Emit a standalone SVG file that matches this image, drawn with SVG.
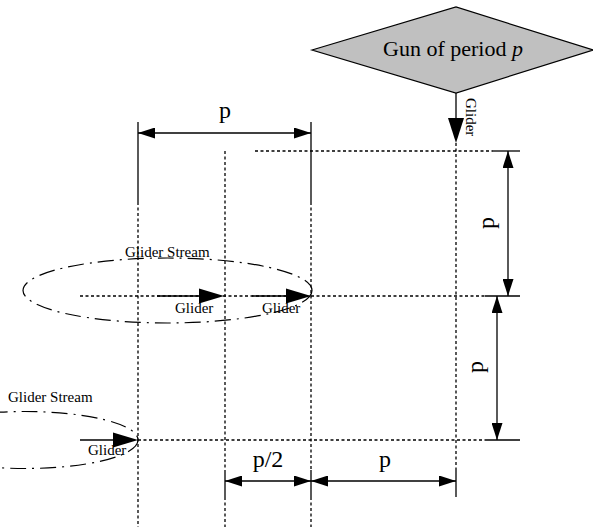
<svg xmlns="http://www.w3.org/2000/svg" width="593" height="527" viewBox="0 0 593 527">
<style>
text{font-family:"Liberation Serif","Times New Roman",serif;fill:#000}
.dot{stroke:#000;stroke-width:1.3;stroke-dasharray:3,2.5;fill:none}
.sol{stroke:#000;stroke-width:1.3;fill:none}
.dd{stroke:#000;stroke-width:1.2;stroke-dasharray:16,6,2,6;fill:none}
.lbl{font-size:15px}
.dim{font-size:24px}
</style>
<defs>
<marker id="ah" viewBox="0 0 17 11" refX="17" refY="5.5" markerWidth="17" markerHeight="11" markerUnits="userSpaceOnUse" orient="auto-start-reverse">
<path d="M0,0 L17,5.5 L0,11 Z" fill="#000"/>
</marker>
</defs>
<g id="gun">
<polygon points="312,50 456,7 593,50 456,93" fill="#c0c0c0" stroke="#000" stroke-width="1.2"/>
<text x="453" y="56" font-size="22" text-anchor="middle">Gun of period <tspan font-style="italic">p</tspan></text>
</g>
<g id="connectors">
<line class="dot" x1="456" y1="143" x2="456" y2="470"/>
<line class="sol" x1="456" y1="470" x2="456" y2="497"/>
<line class="sol" x1="138" y1="122" x2="138" y2="202"/>
<line class="dot" x1="138" y1="202" x2="138" y2="527"/>
<line class="sol" x1="311" y1="122" x2="311" y2="202"/>
<line class="dot" x1="311" y1="202" x2="311" y2="470"/>
<line class="sol" x1="311" y1="470" x2="311" y2="497"/>
<line class="dot" x1="311" y1="497" x2="311" y2="527"/>
<line class="dot" x1="225" y1="151" x2="225" y2="470"/>
<line class="sol" x1="225" y1="470" x2="225" y2="497"/>
<line class="dot" x1="225" y1="497" x2="225" y2="527"/>
<line class="dot" x1="255" y1="151" x2="493" y2="151"/>
<line class="sol" x1="493" y1="151" x2="520" y2="151"/>
<line class="dot" x1="80" y1="296" x2="485" y2="296"/>
<line class="sol" x1="485" y1="296" x2="520" y2="296"/>
<line class="dot" x1="138" y1="440" x2="485" y2="440"/>
<line class="sol" x1="485" y1="440" x2="520" y2="440"/>
<line class="sol" x1="456" y1="93" x2="456" y2="120"/>
<polygon points="448,118 464,118 456,143" fill="#000"/>
<text class="lbl" transform="translate(466,98) rotate(90)" font-size="14.5">Glider</text>
<line class="sol" x1="138" y1="133" x2="311" y2="133" marker-start="url(#ah)" marker-end="url(#ah)"/>
<text class="dim" x="225" y="118" text-anchor="middle">p</text>
<line class="sol" x1="225" y1="481" x2="311" y2="481" marker-start="url(#ah)" marker-end="url(#ah)"/>
<text class="dim" x="268" y="467" text-anchor="middle">p/2</text>
<line class="sol" x1="311" y1="481" x2="456" y2="481" marker-start="url(#ah)" marker-end="url(#ah)"/>
<text class="dim" x="385" y="467" text-anchor="middle">p</text>
<line class="sol" x1="508" y1="151" x2="508" y2="296" marker-start="url(#ah)" marker-end="url(#ah)"/>
<text class="dim" transform="translate(494,223) rotate(-90)" text-anchor="middle">p</text>
<line class="sol" x1="497" y1="296" x2="497" y2="440" marker-start="url(#ah)" marker-end="url(#ah)"/>
<text class="dim" transform="translate(483,367) rotate(-90)" text-anchor="middle">p</text>
</g>
<g id="stream1">
<ellipse class="dd" cx="167.5" cy="290.5" rx="144.5" ry="32.5"/>
<text class="lbl" x="125" y="257">Glider Stream</text>
<line class="sol" x1="157" y1="296" x2="200" y2="296"/>
<polygon points="199,288.5 224,296 199,303.5" fill="#000"/>
<text class="lbl" x="175" y="313">Glider</text>
<line class="sol" x1="252" y1="296" x2="287" y2="296"/>
<polygon points="286,288.5 311,296 286,303.5" fill="#000"/>
<text class="lbl" x="262" y="313">Glider</text>
</g>
<g id="stream2">
<ellipse class="dd" cx="25" cy="440" rx="113" ry="28.5"/>
<text class="lbl" x="8" y="402">Glider Stream</text>
<line class="sol" x1="80" y1="440" x2="114" y2="440"/>
<polygon points="113,432.5 138,440 113,447.5" fill="#000"/>
<text class="lbl" x="88" y="455">Glider</text>
</g>
</svg>
